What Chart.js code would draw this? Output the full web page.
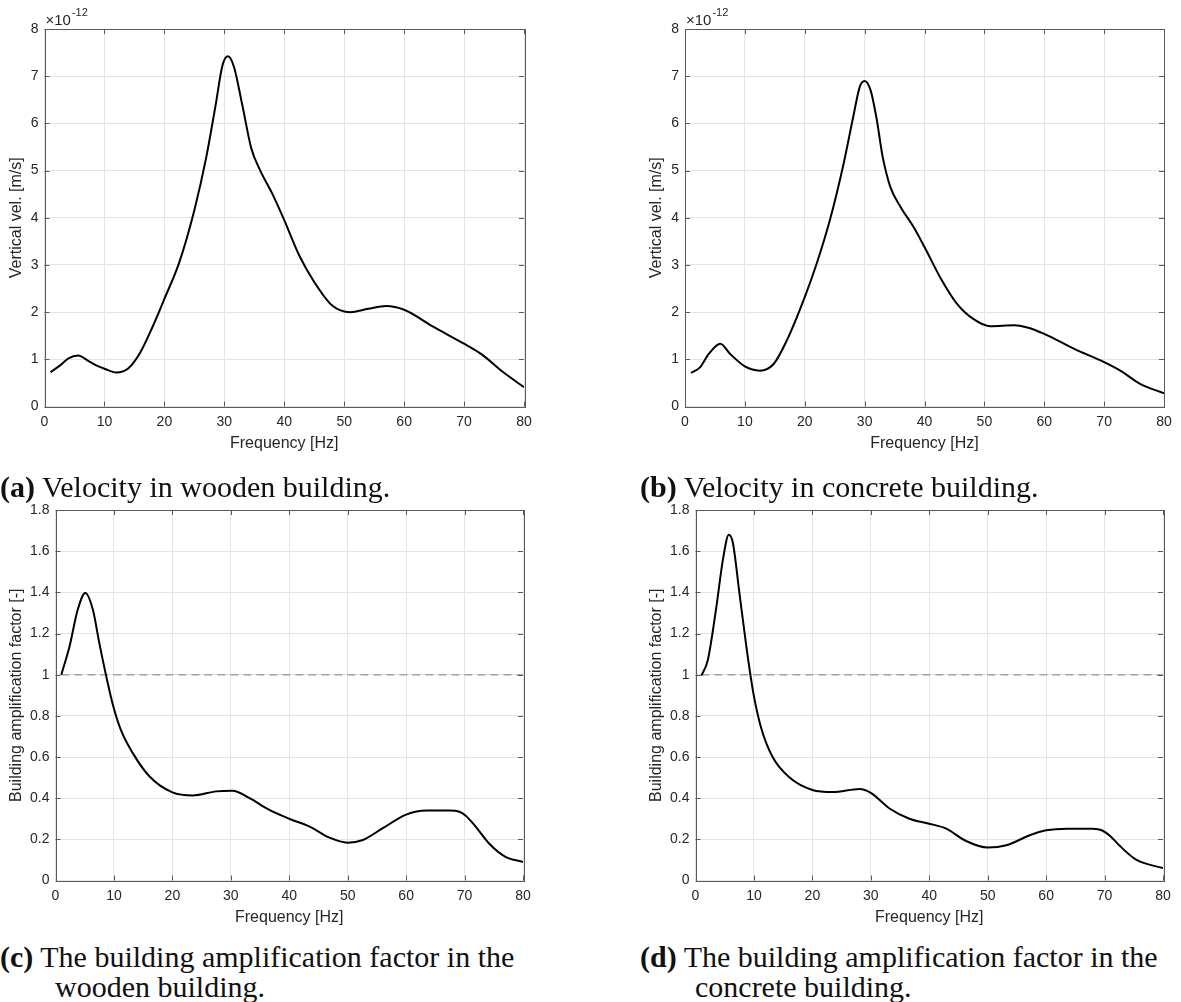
<!DOCTYPE html>
<html>
<head>
<meta charset="utf-8">
<script src="https://cdn.jsdelivr.net/npm/chart.js@4.4.1/dist/chart.umd.min.js"></script>
<style>
    body { margin: 0; background: #fff; width: 1181px; height: 1002px; position: relative; overflow: hidden; }
    canvas { position: absolute; }
    .cap { position: absolute; font-family: "Liberation Serif", serif; font-size: 30px; line-height: 30px; color: #111; white-space: nowrap; }
</style>
</head>
<body>
<canvas id="chartA"></canvas>
<canvas id="chartB"></canvas>
<canvas id="chartC"></canvas>
<canvas id="chartD"></canvas>
<div class="cap" style="left:0; top:472px;"><b>(a)</b> Velocity in wooden building.</div>
<div class="cap" style="left:640px; top:472px;"><b>(b)</b> Velocity in concrete building.</div>
<div class="cap" style="left:0; top:942px;"><b>(c)</b> The building amplification factor in the<br><span style="padding-left:55px">wooden building.</span></div>
<div class="cap" style="left:640px; top:942px;"><b>(d)</b> The building amplification factor in the<br><span style="padding-left:55px">concrete building.</span></div>
<script>
// velocity values in units of 1e-12 m/s
const freqWood = [1, 2.5, 4, 5.6, 7.5, 9, 10, 12, 14, 16, 18, 20, 22.5, 25, 27, 28.5, 29.7, 30.6, 31.6, 33, 34.5, 36, 38, 40, 42.5, 45, 48, 51, 54, 57, 60, 65, 70, 73, 76.5, 80];
const velWood = [0.73, 0.86, 1.02, 1.08, 0.95, 0.85, 0.8, 0.72, 0.81, 1.15, 1.68, 2.28, 3.06, 4.16, 5.29, 6.35, 7.23, 7.42, 7.2, 6.39, 5.47, 5.0, 4.51, 3.95, 3.2, 2.64, 2.14, 2.0, 2.07, 2.13, 2.05, 1.68, 1.33, 1.1, 0.73, 0.41];

const freqConc = [1, 2.5, 4, 5.9, 7.5, 10, 12.5, 14.8, 17, 20, 22, 24.2, 26.5, 28.1, 29.2, 30, 31, 32, 33, 34.3, 36, 38.2, 40, 42.6, 45.4, 48.2, 51, 55, 57, 60, 65, 70, 72.7, 76, 80];
const velConc = [0.71, 0.83, 1.12, 1.33, 1.12, 0.85, 0.76, 0.9, 1.4, 2.32, 3.03, 3.95, 5.15, 6.14, 6.78, 6.9, 6.7, 6.1, 5.3, 4.65, 4.23, 3.8, 3.38, 2.74, 2.18, 1.85, 1.7, 1.72, 1.68, 1.54, 1.22, 0.94, 0.76, 0.48, 0.28];

const freqAmpWood = [1, 2.4, 3.8, 5.1, 6.4, 7.5, 8.7, 9.9, 11.2, 13.2, 16.1, 20, 23.5, 27.5, 30.3, 33.2, 36.6, 40, 43.5, 46.9, 50, 52.6, 56, 60, 63.5, 67.5, 69, 70.2, 71.9, 74.2, 77, 80];
const ampWood = [1.0, 1.137, 1.315, 1.397, 1.315, 1.153, 0.99, 0.845, 0.73, 0.62, 0.505, 0.428, 0.413, 0.433, 0.436, 0.4, 0.343, 0.3, 0.262, 0.208, 0.184, 0.197, 0.254, 0.32, 0.34, 0.34, 0.335, 0.315, 0.262, 0.18, 0.115, 0.09];

const freqAmpConc = [1, 2.1, 3.5, 4.7, 5.7, 6.4, 7.5, 8.7, 9.9, 11.2, 13.2, 16.1, 20, 23.5, 28.1, 30, 33.2, 36.6, 40, 42.9, 46.3, 50, 53.2, 57.2, 60, 63.5, 68, 69.5, 71, 72.5, 75.4, 80];
const ampConc = [0.995, 1.07, 1.315, 1.56, 1.68, 1.64, 1.4, 1.137, 0.91, 0.745, 0.6, 0.5, 0.44, 0.43, 0.445, 0.426, 0.35, 0.3, 0.276, 0.252, 0.192, 0.16, 0.171, 0.22, 0.244, 0.252, 0.251, 0.244, 0.215, 0.171, 0.101, 0.06];

const refFreq = [1, 80];
const refAmp = [1, 1];

const xTitle = 'Frequency [Hz]';
const velTitle = 'Vertical vel. [m/s]';
const ampTitle = 'Building amplification factor [-]';

const textColor = '#262626';
const boxColor = '#5a5a5a';
const gridColor = '#e4e4e4';

const toPoints = (xs, ys) => xs.map((x, i) => ({x: x, y: ys[i]}));

// MATLAB style box with inward ticks + exponent label
const boxPlugin = {
    id: 'box',
    afterDraw(chart, args, opts) {
        const {ctx, chartArea: a, scales: {x, y}} = chart;
        const len = 5;
        ctx.save();
        ctx.strokeStyle = boxColor;
        ctx.lineWidth = 1;
        ctx.strokeRect(Math.round(a.left) + 0.5, Math.round(a.top) + 0.5, Math.round(a.right - a.left), Math.round(a.bottom - a.top));
        ctx.beginPath();
        x.ticks.forEach(t => {
            const px = Math.round(x.getPixelForValue(t.value)) + 0.5;
            ctx.moveTo(px, a.bottom); ctx.lineTo(px, a.bottom - len);
            ctx.moveTo(px, a.top); ctx.lineTo(px, a.top + len);
        });
        y.ticks.forEach(t => {
            const py = Math.round(y.getPixelForValue(t.value)) + 0.5;
            ctx.moveTo(a.left, py); ctx.lineTo(a.left + len, py);
            ctx.moveTo(a.right, py); ctx.lineTo(a.right - len, py);
        });
        ctx.stroke();
        if (opts.exponent) {
            ctx.fillStyle = textColor;
            ctx.textBaseline = 'alphabetic';
            ctx.font = '15px "Liberation Sans", Arial, sans-serif';
            ctx.fillText('\u00d710', a.left + 1, a.top - 4);
            const w = ctx.measureText('\u00d710').width;
            ctx.font = '11px "Liberation Sans", Arial, sans-serif';
            ctx.fillText(opts.exponent, a.left + 2 + w, a.top - 13);
        }
        ctx.restore();
    }
};

function makePanel(id, cfg) {
    const canvas = document.getElementById(id);
    canvas.width = cfg.w;
    canvas.height = cfg.h;
    canvas.style.left = cfg.left + 'px';
    canvas.style.top = cfg.top + 'px';

    const datasets = [{
        data: cfg.points,
        borderColor: '#000',
        borderWidth: 2,
        pointRadius: 0,
        cubicInterpolationMode: 'monotone',
        fill: false
    }];
    if (cfg.reference) {
        datasets.push({
            data: cfg.reference,
            borderColor: '#a3a3a3',
            borderWidth: 1.5,
            borderDash: [8, 5],
            pointRadius: 0,
            fill: false
        });
    }

    return new Chart(canvas, {
        type: 'line',
        data: {datasets: datasets},
        plugins: [boxPlugin],
        options: {
            responsive: false,
            animation: false,
            events: [],
            layout: {
                padding: {
                    left: 0,
                    top: cfg.area.t - cfg.top,
                    right: cfg.left + cfg.w - cfg.area.r,
                    bottom: 0
                }
            },
            plugins: {
                legend: {display: false},
                tooltip: {enabled: false},
                box: {exponent: cfg.exponent}
            },
            scales: {
                x: {
                    type: 'linear',
                    min: 0,
                    max: 80,
                    ticks: {stepSize: 10, color: textColor, padding: 7, maxRotation: 0,
                        font: {family: '"Liberation Sans", Arial, sans-serif', size: 14}},
                    grid: {color: gridColor, drawTicks: false},
                    border: {display: false},
                    title: {display: true, text: xTitle, color: textColor, padding: {top: 0, bottom: 7},
                        font: {family: '"Liberation Sans", Arial, sans-serif', size: 16}},
                    afterFit: s => { s.height = cfg.top + cfg.h - cfg.area.b; }
                },
                y: {
                    min: 0,
                    max: cfg.yMax,
                    ticks: {stepSize: cfg.yStep, color: textColor, padding: 6,
                        font: {family: '"Liberation Sans", Arial, sans-serif', size: 14},
                        callback: v => String(+v.toFixed(1))},
                    grid: {color: gridColor, drawTicks: false},
                    border: {display: false},
                    title: {display: true, text: cfg.yTitle, color: textColor, padding: {top: 7, bottom: 0},
                        font: {family: '"Liberation Sans", Arial, sans-serif', size: 16}},
                    afterFit: s => { s.width = cfg.area.l - cfg.left; }
                }
            }
        }
    });
}

makePanel('chartA', {
    left: 0, top: 0, w: 560, h: 460,
    area: {l: 44.5, t: 29, r: 524, b: 406.5},
    points: toPoints(freqWood, velWood),
    yMax: 8, yStep: 1, yTitle: velTitle, exponent: '-12'
});
makePanel('chartB', {
    left: 640, top: 0, w: 541, h: 460,
    area: {l: 685, t: 29, r: 1164, b: 406.5},
    points: toPoints(freqConc, velConc),
    yMax: 8, yStep: 1, yTitle: velTitle, exponent: '-12'
});
makePanel('chartC', {
    left: 0, top: 495, w: 560, h: 439,
    area: {l: 55.5, t: 510, r: 523, b: 880.5},
    points: toPoints(freqAmpWood, ampWood),
    reference: toPoints(refFreq, refAmp),
    yMax: 1.8, yStep: 0.2, yTitle: ampTitle
});
makePanel('chartD', {
    left: 640, top: 495, w: 541, h: 439,
    area: {l: 695.5, t: 510, r: 1163, b: 880.5},
    points: toPoints(freqAmpConc, ampConc),
    reference: toPoints(refFreq, refAmp),
    yMax: 1.8, yStep: 0.2, yTitle: ampTitle
});
</script>
</body>
</html>
